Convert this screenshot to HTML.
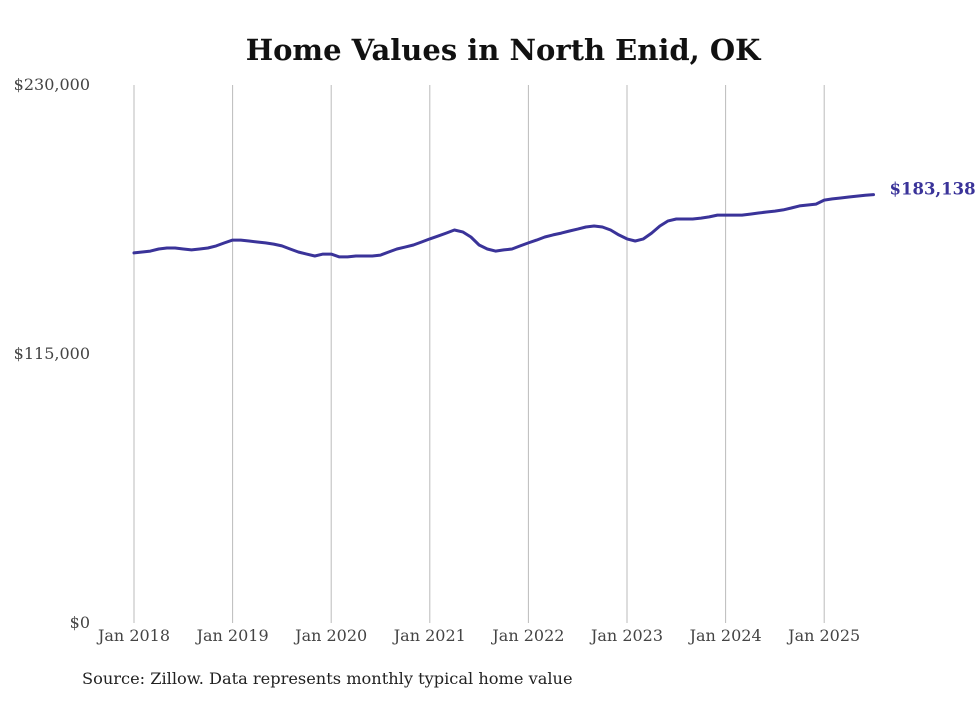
<!DOCTYPE html>
<html>
<head>
<meta charset="utf-8">
<style>
  html,body{margin:0;padding:0;background:#fff;}
  body{width:980px;height:699px;overflow:hidden;font-family:"DejaVu Serif","Liberation Serif",serif;}
  svg text{font-family:"DejaVu Serif","Liberation Serif",serif;}
</style>
</head>
<body>
<svg id="chart" width="980" height="699" viewBox="0 0 980 699">
  <text x="503" y="60" text-anchor="middle" font-size="29" font-weight="bold" fill="#111">Home Values in North Enid, OK</text>
  <g id="grid"></g>
  <g id="yaxis"></g>
  <g id="xaxis"></g>
  <g id="series"></g>
  <text x="82" y="684" font-size="16.2" fill="#222">Source: Zillow. Data represents monthly typical home value</text>
</svg>
<script>
const startYear = 2018;
const yTicks = [0, 115000, 230000];
const yTickLabels = ["$0", "$115,000", "$230,000"];
const xTickLabels = ["Jan 2018","Jan 2019","Jan 2020","Jan 2021","Jan 2022","Jan 2023","Jan 2024","Jan 2025"];
const xTickMonths = [0,12,24,36,48,60,72,84];
const values2018 = [158200,158600,159000,159900,160300,160300,159900,159500,159900,160300,161200,162500];
const values2019 = [163700,163700,163300,162900,162500,162000,161200,159900,158600,157700,156900,157700];
const values2020 = [157700,156500,156500,156900,156900,156900,157300,158600,159900,160700,161600,162900];
const values2021 = [164200,165400,166700,168000,167200,165000,161600,159900,159000,159500,159900,161200];
const values2022 = [162500,163700,165000,165900,166700,167600,168400,169300,169700,169300,168000,165900];
const values2023 = [164200,163300,164200,166700,169700,171900,172700,172700,172700,173100,173600,174400];
const values2024 = [174400,174400,174400,174800,175300,175700,176100,176600,177400,178300,178700,179100];
const values2025 = [180800,181300,181700,182100,182500,182900,183138];
const values = [].concat(values2018,values2019,values2020,values2021,values2022,values2023,values2024,values2025);
const lastLabel = "$183,138";

const NS = "http://www.w3.org/2000/svg";
const x0 = 134, monthW = 98.6/12, yBottom = 623, yTop = 85, yMax = 230000;
function xScale(i){ return x0 + i*monthW; }
function yScale(v){ return yBottom - v/yMax*(yBottom-yTop); }
function mk(tag, attrs, parent){ const e=document.createElementNS(NS,tag); for(const k in attrs) e.setAttribute(k,attrs[k]); parent.appendChild(e); return e; }

const grid=document.getElementById('grid'), yaxis=document.getElementById('yaxis'), xaxis=document.getElementById('xaxis'), series=document.getElementById('series');

xTickMonths.forEach((m,idx)=>{
  const x=xScale(m);
  const l=mk('line',{x1:x,x2:x,y1:yTop,y2:yBottom,stroke:'#bbb','stroke-width':1},grid);
  
  
  const t=mk('text',{x:x,y:641,'text-anchor':'middle','font-size':16,fill:'#444'},xaxis);
  t.textContent=xTickLabels[idx];
  
  
});
yTicks.forEach((v,idx)=>{
  const t=mk('text',{x:90,y:yScale(v)+5,'text-anchor':'end','font-size':16,fill:'#444'},yaxis);
  t.textContent=yTickLabels[idx];
  
  
});
const d=values.map((v,i)=>(i?'L':'M')+xScale(i).toFixed(1)+','+yScale(v).toFixed(1)).join(' ');
const p=mk('path',{d:d,fill:'none',stroke:'#3a3399','stroke-width':3,'stroke-linejoin':'round','stroke-linecap':'round'},series);


const li=values.length-1;
const lab=mk('text',{x:xScale(li)+16,y:yScale(values[li])+0,'font-size':16.5,'font-weight':'bold',fill:'#3a3399'},series);
lab.textContent=lastLabel;


</script>
</body>
</html>
